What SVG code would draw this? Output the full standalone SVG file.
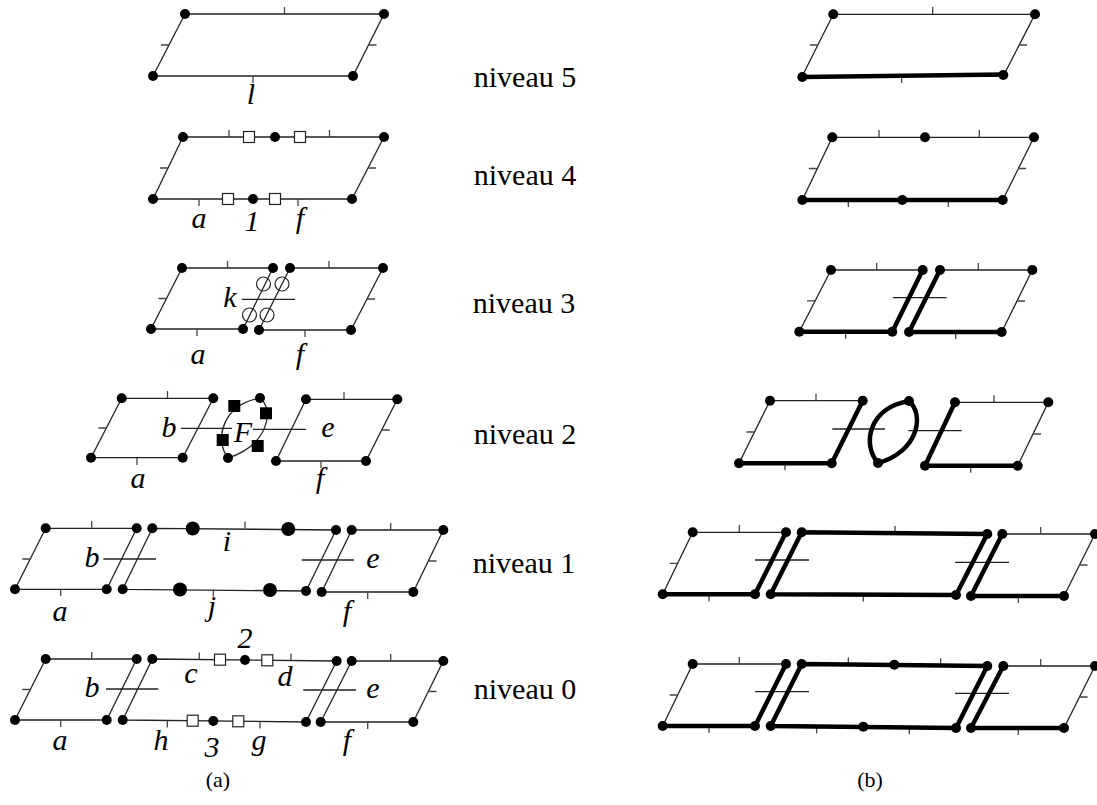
<svg xmlns="http://www.w3.org/2000/svg" width="1097" height="805" viewBox="0 0 1097 805">
<style>
.e{stroke:#222;stroke-width:1.3;fill:none;stroke-linejoin:round}
.t{stroke:#444;stroke-width:1.3;fill:none}
.T{stroke:#000;stroke-width:4.5;fill:none;stroke-linecap:round;stroke-linejoin:round}
.d{fill:#000}
.sq{fill:#fff;stroke:#222;stroke-width:1.2}
.bq{fill:#000}
.ci{fill:none;stroke:#222;stroke-width:1.2}
.lbl{font-family:"Liberation Serif",serif;font-style:italic;font-size:30px;text-anchor:middle;fill:#000}
.lv{font-family:"Liberation Serif",serif;font-size:30px;text-anchor:middle;fill:#000}
.cap{font-family:"Liberation Serif",serif;font-size:22px;text-anchor:middle;fill:#000}
</style>
<rect width="1097" height="805" fill="#fff"/>

<!-- (a) column -->
<g id="a5">
<polygon class="e" points="185,14 384,14 353,76 153,76"/>
<path class="t" d="M284.5,14v-7M253,76v7M169,45h-8M368.5,45h8"/>
<circle class="d" cx="185" cy="14" r="5"/><circle class="d" cx="384" cy="14" r="5"/><circle class="d" cx="153" cy="76" r="5"/><circle class="d" cx="353" cy="76" r="5"/>
<text class="lbl" x="251" y="104">l</text>
</g>

<g id="a4">
<polygon class="e" points="183,137 384,137 352,199 153,199"/>
<path class="t" d="M229,137v-7M329.5,137v-7M199,199v7M298,199v7M168,168h-8M368,168h8"/>
<rect class="sq" x="243.5" y="131.5" width="11" height="11"/><rect class="sq" x="294.5" y="131.5" width="11" height="11"/>
<rect class="sq" x="222.5" y="193.5" width="11" height="11"/><rect class="sq" x="269.5" y="193.5" width="11" height="11"/>
<circle class="d" cx="183" cy="137" r="5"/><circle class="d" cx="384" cy="137" r="5"/><circle class="d" cx="153" cy="199" r="5"/><circle class="d" cx="352" cy="199" r="5"/>
<circle class="d" cx="275" cy="137" r="5"/><circle class="d" cx="253" cy="199" r="5"/>
<text class="lbl" x="199" y="228">a</text><text class="lbl" x="252" y="231">1</text><text class="lbl" x="300" y="228">f</text>
</g>

<g id="a3">
<polygon class="e" points="182,268 273,268 243,329 151,329"/>
<polygon class="e" points="290,268 383,268 351,330 259,330"/>
<path class="t" d="M227.5,268v-7M197,329v7M329,268v-7M305,330v7M166.5,298.5h-8M367,299h8"/>
<path class="e" d="M241.7,299.3H295"/>
<circle class="ci" cx="263.5" cy="284" r="7"/><circle class="ci" cx="282" cy="284" r="7"/><circle class="ci" cx="249.5" cy="315" r="7"/><circle class="ci" cx="267" cy="315" r="7"/>
<circle class="d" cx="182" cy="268" r="5"/><circle class="d" cx="273" cy="268" r="5"/><circle class="d" cx="243" cy="329" r="5"/><circle class="d" cx="151" cy="329" r="5"/>
<circle class="d" cx="290" cy="268" r="5"/><circle class="d" cx="383" cy="268" r="5"/><circle class="d" cx="351" cy="330" r="5"/><circle class="d" cx="259" cy="330" r="5"/>
<text class="lbl" x="230" y="307">k</text>
<text class="lbl" x="198" y="364">a</text><text class="lbl" x="300" y="364">f</text>
</g>

<g id="a2">
<polygon class="e" points="121.7,398.3 213.3,398.3 182.7,457.7 91,457.7"/>
<polygon class="e" points="306,399.3 397.3,399.3 366,461 276,461"/>
<path class="t" d="M167.5,398v-7M137,458v7M106.3,428h-8M344,399v-7M321,461v7M381.7,430h8"/>
<path class="e" d="M181,428.3H232M253,429.3H306"/>
<path class="e" d="M228,458C214,440 222,405 260,398M260,398C275,410 268,445 228,458"/>
<rect class="bq" x="228.3" y="400" width="12" height="12"/><rect class="bq" x="260" y="407.3" width="12" height="12"/>
<rect class="bq" x="216.7" y="434" width="12" height="12"/><rect class="bq" x="251.7" y="440" width="12" height="12"/>
<circle class="d" cx="121.7" cy="398.3" r="5"/><circle class="d" cx="213.3" cy="398.3" r="5"/><circle class="d" cx="182.7" cy="457.7" r="5"/><circle class="d" cx="91" cy="457.7" r="5"/>
<circle class="d" cx="306" cy="399.3" r="5"/><circle class="d" cx="397.3" cy="399.3" r="5"/><circle class="d" cx="366" cy="461" r="5"/><circle class="d" cx="276" cy="461" r="5"/>
<circle class="d" cx="260" cy="398" r="5"/><circle class="d" cx="228" cy="458" r="5"/>
<text class="lbl" x="169" y="437">b</text><text class="lbl" x="243" y="442">F</text><text class="lbl" x="328" y="437">e</text>
<text class="lbl" x="138" y="488">a</text><text class="lbl" x="320" y="488">f</text>
</g>

<g id="a1">
<polygon class="e" points="45.7,528.3 136.7,528.3 106.7,589.3 15,589.3"/>
<polygon class="e" points="152.3,528.3 336,530 306,591 122.7,589.3"/>
<polygon class="e" points="351.7,530 443.3,530 413.3,592 321.7,592"/>
<path class="t" d="M91.7,528v-7M60.7,589v7M30.3,559h-8M245,528.5v-7M213.3,589.5v7M390.7,530v-7M367.7,592v7M428.5,561h8"/>
<path class="e" d="M103.3,559H156M301.7,560H354"/>
<circle class="d" cx="45.7" cy="528.3" r="5"/><circle class="d" cx="136.7" cy="528.3" r="5"/><circle class="d" cx="106.7" cy="589.3" r="5"/><circle class="d" cx="15" cy="589.3" r="5"/>
<circle class="d" cx="152.3" cy="528.3" r="5"/><circle class="d" cx="336" cy="530" r="5"/><circle class="d" cx="306" cy="591" r="5"/><circle class="d" cx="122.7" cy="589.3" r="5"/>
<circle class="d" cx="351.7" cy="530" r="5"/><circle class="d" cx="443.3" cy="530" r="5"/><circle class="d" cx="413.3" cy="592" r="5"/><circle class="d" cx="321.7" cy="592" r="5"/>
<circle class="d" cx="192.7" cy="528.5" r="7"/><circle class="d" cx="288.3" cy="529" r="7"/><circle class="d" cx="180" cy="589.5" r="7"/><circle class="d" cx="270" cy="590" r="7"/>
<text class="lbl" x="92" y="567">b</text><text class="lbl" x="227" y="551">i</text><text class="lbl" x="373" y="568">e</text>
<text class="lbl" x="60" y="621">a</text><text class="lbl" x="212" y="616">j</text><text class="lbl" x="347" y="621">f</text>
</g>

<g id="a0">
<polygon class="e" points="45.7,659 136.7,659 106.7,720 15,720"/>
<polygon class="e" points="152.3,659 336.7,661 306,722 122.7,720"/>
<polygon class="e" points="351.7,661 443.3,661 413.3,722 320.7,722"/>
<path class="t" d="M91.7,659v-7M60.7,720v7M30.3,689.5h-8M199.3,659.5v-7M291,660.5v-7M167.3,720.5v7M260,721.5v7M390.7,661v-7M367.7,722v7M428.5,691.5h8"/>
<path class="e" d="M106,689H158.3M303.3,690H356"/>
<rect class="sq" x="214.5" y="654.2" width="11" height="11"/><rect class="sq" x="261.8" y="654.8" width="11" height="11"/>
<rect class="sq" x="187.2" y="715.2" width="11" height="11"/><rect class="sq" x="232.8" y="715.8" width="11" height="11"/>
<circle class="d" cx="45.7" cy="659" r="5"/><circle class="d" cx="136.7" cy="659" r="5"/><circle class="d" cx="106.7" cy="720" r="5"/><circle class="d" cx="15" cy="720" r="5"/>
<circle class="d" cx="152.3" cy="659" r="5"/><circle class="d" cx="336.7" cy="661" r="5"/><circle class="d" cx="306" cy="722" r="5"/><circle class="d" cx="122.7" cy="720" r="5"/>
<circle class="d" cx="351.7" cy="661" r="5"/><circle class="d" cx="443.3" cy="661" r="5"/><circle class="d" cx="413.3" cy="722" r="5"/><circle class="d" cx="320.7" cy="722" r="5"/>
<circle class="d" cx="245" cy="660" r="5"/><circle class="d" cx="213.3" cy="721" r="5"/>
<text class="lbl" x="92" y="697">b</text><text class="lbl" x="191" y="683">c</text><text class="lbl" x="245" y="648">2</text><text class="lbl" x="285" y="686">d</text><text class="lbl" x="373" y="698">e</text>
<text class="lbl" x="60" y="750">a</text><text class="lbl" x="161" y="750">h</text><text class="lbl" x="212" y="757">3</text><text class="lbl" x="259" y="750">g</text><text class="lbl" x="347" y="750">f</text>
</g>

<!-- level labels -->
<g id="labels">
<text class="lv" x="525" y="87">niveau 5</text>
<text class="lv" x="525" y="185">niveau 4</text>
<text class="lv" x="524" y="313">niveau 3</text>
<text class="lv" x="525" y="444">niveau 2</text>
<text class="lv" x="524" y="573">niveau 1</text>
<text class="lv" x="525" y="699">niveau 0</text>
<text class="cap" x="218" y="787">(a)</text>
<text class="cap" x="870" y="787">(b)</text>
</g>

<!-- (b) column -->
<g id="b5">
<polygon class="e" points="833.3,14.3 1035,14.3 1003.3,76 802.3,76"/>
<path class="t" d="M932.7,14v-7M901.7,76v7M818,45h-8M1019,45h8"/>
<path class="T" d="M802.3,77L1003.3,74.5"/>
<circle class="d" cx="833.3" cy="14.3" r="5"/><circle class="d" cx="1035" cy="14.3" r="5"/><circle class="d" cx="802.3" cy="77" r="5"/><circle class="d" cx="1003.3" cy="75" r="5"/>
</g>

<g id="b4">
<polygon class="e" points="832.3,137.3 1034,137.3 1002.7,200 802.3,200"/>
<path class="t" d="M879,137v-7M979.3,137v-7M848.3,200v7M948.3,200v7M817,168.5h-8M1018,168.5h8"/>
<path class="T" d="M802.3,200H1002.7"/>
<circle class="d" cx="832.3" cy="137.3" r="5"/><circle class="d" cx="1034" cy="137.3" r="5"/><circle class="d" cx="802.3" cy="200" r="5"/><circle class="d" cx="1002.7" cy="200" r="5"/>
<circle class="d" cx="925" cy="137.3" r="5"/><circle class="d" cx="902.3" cy="200" r="5"/>
</g>

<g id="b3">
<polygon class="e" points="831,270 922.7,270 892.3,331.7 799.3,331.7"/>
<polygon class="e" points="940,270 1032.3,270 1001.7,332 909,332"/>
<path class="t" d="M876.7,270v-7M845.7,331.7v7M978.3,270v-7M955.7,332v7M815,300.8h-8M1017,301h8"/>
<path class="e" d="M892.7,297.7H946.7"/>
<path class="T" d="M799.3,331.7H892.3L922.7,270M940,270L909,332H1001.7"/>
<circle class="d" cx="831" cy="270" r="5"/><circle class="d" cx="922.7" cy="270" r="5"/><circle class="d" cx="892.3" cy="331.7" r="5"/><circle class="d" cx="799.3" cy="331.7" r="5"/>
<circle class="d" cx="940" cy="270" r="5"/><circle class="d" cx="1032.3" cy="270" r="5"/><circle class="d" cx="1001.7" cy="332" r="5"/><circle class="d" cx="909" cy="332" r="5"/>
</g>

<g id="b2">
<polygon class="e" points="770,400.7 862.7,400.7 831.7,463.3 739,463.3"/>
<polygon class="e" points="955,402.3 1048.3,402.3 1017.7,465.7 925,465.7"/>
<path class="t" d="M816,400.7v-7M785,463.3v7M754.5,432h-8M994,402.3v-7M970.7,465.7v7M1033,434h8"/>
<path class="e" d="M832.3,429H885M908.3,430.7H961.7"/>
<path class="T" d="M739,463.3H831.7L862.7,400.7M955,402.3L925,465.7H1017.7"/>
<path class="T" d="M878,463C862,445 868,408 909,401M909,401C925,415 918,452 878,463"/>
<circle class="d" cx="770" cy="400.7" r="5"/><circle class="d" cx="862.7" cy="400.7" r="5"/><circle class="d" cx="831.7" cy="463.3" r="5"/><circle class="d" cx="739" cy="463.3" r="5"/>
<circle class="d" cx="955" cy="402.3" r="5"/><circle class="d" cx="1048.3" cy="402.3" r="5"/><circle class="d" cx="1017.7" cy="465.7" r="5"/><circle class="d" cx="925" cy="465.7" r="5"/>
<circle class="d" cx="909" cy="401" r="5"/><circle class="d" cx="878" cy="463" r="5"/>
</g>

<g id="b1">
<polygon class="e" points="692.7,532.3 786,532.3 755,594.3 662.7,594.3"/>
<polygon class="e" points="1002.3,534 1095,534 1064,596 971,596"/>
<path class="t" d="M739.3,532v-7M709,594.3v7M677.7,563.3h-8M895,533v-7M863.3,594.6v7M1040.7,534v-7M1018.3,596v7M1079.5,565h8"/>
<path class="e" d="M755,560H809M955,562.3H1009"/>
<path class="T" d="M662.7,594.3H755L786,532.3M1002.3,534L971,596H1064"/>
<polygon class="T" points="801.7,532.3 987.3,534 956,595 770.7,594.3"/>
<circle class="d" cx="692.7" cy="532.3" r="5"/><circle class="d" cx="786" cy="532.3" r="5"/><circle class="d" cx="755" cy="594.3" r="5"/><circle class="d" cx="662.7" cy="594.3" r="5"/>
<circle class="d" cx="801.7" cy="532.3" r="5"/><circle class="d" cx="987.3" cy="534" r="5"/><circle class="d" cx="956" cy="595" r="5"/><circle class="d" cx="770.7" cy="594.3" r="5"/>
<circle class="d" cx="1002.3" cy="534" r="5"/><circle class="d" cx="1095" cy="534" r="5"/><circle class="d" cx="1064" cy="596" r="5"/><circle class="d" cx="971" cy="596" r="5"/>
</g>

<g id="b0">
<polygon class="e" points="692.7,664 786,664 755,726 662.7,726"/>
<polygon class="e" points="1003.3,666 1095,666 1064,728 971,728"/>
<path class="t" d="M739.3,664v-7M709,726v7M677.7,695h-8M848.3,664.3v-7M940.7,665.3v-7M816.7,726.3v7M909.3,727.3v7M1040.7,666v-7M1018.3,728v7M1079.5,697h8"/>
<path class="e" d="M755,691.7H809M955,693.3H1009"/>
<path class="T" d="M662.7,726H755L786,664M1003.3,666L971,728H1064"/>
<polygon class="T" points="801.7,664 987.3,666 956,728 770.7,726"/>
<circle class="d" cx="692.7" cy="664" r="5"/><circle class="d" cx="786" cy="664" r="5"/><circle class="d" cx="755" cy="726" r="5"/><circle class="d" cx="662.7" cy="726" r="5"/>
<circle class="d" cx="801.7" cy="664" r="5"/><circle class="d" cx="987.3" cy="666" r="5"/><circle class="d" cx="956" cy="728" r="5"/><circle class="d" cx="770.7" cy="726" r="5"/>
<circle class="d" cx="1003.3" cy="666" r="5"/><circle class="d" cx="1095" cy="666" r="5"/><circle class="d" cx="1064" cy="728" r="5"/><circle class="d" cx="971" cy="728" r="5"/>
<circle class="d" cx="894.3" cy="664.8" r="5"/><circle class="d" cx="863.3" cy="726.7" r="5"/>
</g>
</svg>
